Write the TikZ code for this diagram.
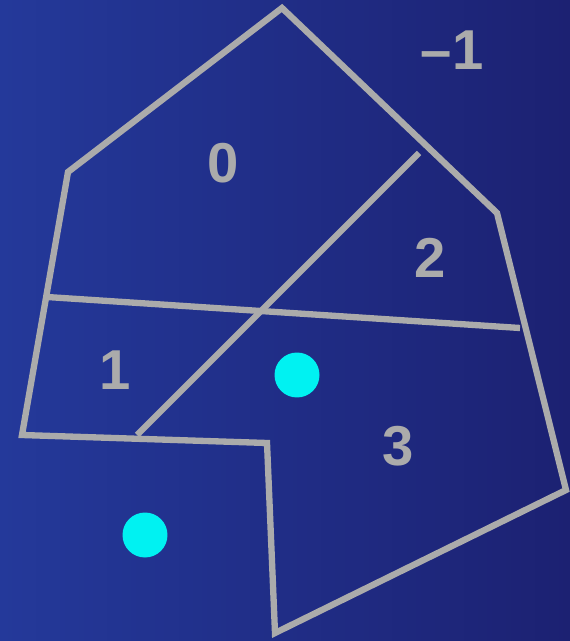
\documentclass[tikz,border=0pt]{standalone}
\usepackage{fontspec}
\setmainfont{Liberation Sans}
\usetikzlibrary{calc}
\definecolor{rgbgleft}{HTML}{24399A}
\definecolor{rgbgright}{HTML}{1C2172}
\definecolor{rgline}{HTML}{ABABAB}
\definecolor{rgdot}{HTML}{00F2F2}
\tikzset{
  rgedge/.style={draw=rgline, line width=3.6pt, line join=miter},
  rglabel/.style={text=rgline, font=\fontsize{32}{32}\selectfont\bfseries,
    inner sep=0pt},
  rgdot/.style={circle, fill=rgdot, minimum size=0.9cm, inner sep=0pt},
}

\begin{document}
\begin{tikzpicture}[x=0.02cm, y=-0.02cm]

% Background.
\shade[left color=rgbgleft, right color=rgbgright] (0, 0) rectangle (570, 641);
\useasboundingbox (0, 0) rectangle (570, 641);

% Outer region.
\draw[rgedge] (282, 8) -- (497, 213) -- (566, 490) -- (275, 633)
  -- (267, 443) -- (22, 435) -- (68, 172) -- cycle;

% Splitting lines.
\coordinate (hA) at (47, 297);
\coordinate (hB) at (520, 328);
\coordinate (dA) at (419, 153);
\coordinate (dB) at (137, 435);
\draw[rgedge] (hA) -- (hB);
\draw[rgedge] (dA) -- (dB);

% Region numbers.
\foreach \name/\x/\y/\txt in {%
    zero/223/163/0,
    out/452/50/{\raisebox{0pt}{--}1},
    two/430/258/2,
    one/115/370/1,
    three/398/446/3} {
  \node[rglabel] (lab\name) at (\x, \y) {\txt};
}

% Query points.
\node[rgdot] (dotin) at (297, 375) {};
\node[rgdot] (dotout) at (145, 535) {};

\end{tikzpicture}
\end{document}
